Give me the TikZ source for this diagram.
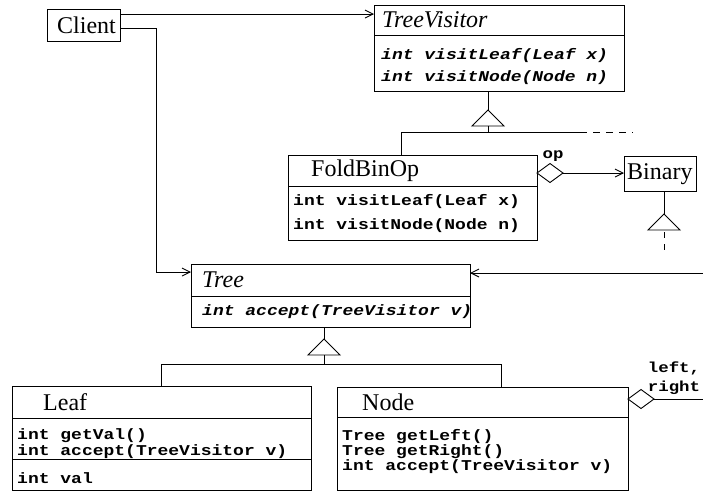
\documentclass[tikz,border=0pt]{standalone}
\usepackage{fontspec}
\setmainfont{Liberation Serif}
\newfontfamily\codefont[FakeStretch=1.2]{Liberation Mono}
\usetikzlibrary{arrows.meta,calc}

\newcommand{\ttlfont}{\fontsize{24}{24}\selectfont}
\newcommand{\memfont}{\codefont\fontsize{15}{15}\selectfont\bfseries}
\newcommand{\lblfont}{\codefont\fontsize{14.5}{14.5}\selectfont\bfseries}

\tikzset{
  ln/.style={line width=0.9pt, draw=black},
  cls/.style={ln, anchor=north west, inner sep=0pt, outer sep=0pt},
  ttl/.style={anchor=west, inner sep=0pt, font=\ttlfont},
  mem/.style={anchor=west, inner sep=0pt, font=\memfont},
  lbl/.style={anchor=center, inner sep=0pt, font=\lblfont},
  assoc/.style={ln, -{Straight Barb[length=8pt,width=8pt,line width=0.9pt]}},
  dsh/.style={ln, dash pattern=on 7pt off 6pt},
  gen/.pic={\draw[ln, fill=white] (0,0) -- (16,16) -- (-16,16) -- cycle;},
  agg/.pic={\draw[ln, fill=white] (0,0) -- (13,-9.5) -- (26,0) -- (13,9.5) -- cycle;}
}

\begin{document}
\begin{tikzpicture}[x=1pt, y=-1pt]
\useasboundingbox (0,0) rectangle (703,491);

% ---- classes ----
\node[cls, minimum width=73pt, minimum height=32pt] (client) at (47,9) {};
\node[ttl] at (57,25) {Client};

\node[cls, minimum width=250pt, minimum height=86pt] (tv) at (374,5) {};
\draw[ln] (374,35) -- (624,35);
\node[ttl] at (382,20) {\itshape TreeVisitor};
\node[mem] at (381,56) {\itshape int visitLeaf(Leaf x)};
\node[mem] at (381,78) {\itshape int visitNode(Node n)};

\node[cls, minimum width=249pt, minimum height=85pt] (fold) at (288,155) {};
\draw[ln] (288,186) -- (537,186);
\node[ttl] at (311,171) {FoldBinOp};
\node[mem] at (293,202) {int visitLeaf(Leaf x)};
\node[mem] at (293,226) {int visitNode(Node n)};

\node[cls, minimum width=72pt, minimum height=35pt] (binary) at (624,156) {};
\node[ttl] at (627,174) {Binary};

\node[cls, minimum width=279pt, minimum height=63pt] (tree) at (191,264) {};
\draw[ln] (191,296) -- (470,296);
\node[ttl] at (202,280) {\itshape Tree};
\node[mem] at (202,312) {\itshape int accept(TreeVisitor v)};

\node[cls, minimum width=299pt, minimum height=104pt] (leaf) at (12,386) {};
\draw[ln] (12,418) -- (311,418);
\draw[ln] (12,459) -- (311,459);
\node[ttl] at (43,402) {Leaf};
\node[mem] at (17,436) {int getVal()};
\node[mem] at (17,452) {int accept(TreeVisitor v)};
\node[mem] at (17,478) {int val};

\node[cls, minimum width=291pt, minimum height=103pt] (node) at (337,387) {};
\draw[ln] (337,417) -- (628,417);
\node[ttl] at (362,402) {Node};
\node[mem] at (342,437) {Tree getLeft()};
\node[mem] at (342,452) {Tree getRight()};
\node[mem] at (342,467) {int accept(TreeVisitor v)};

% ---- Client associations ----
\coordinate (c1) at ($(client.north east)+(0,5)$);
\draw[assoc] (c1) -- (c1 -| tv.west);
\coordinate (c2) at ($(client.north east)+(0,19)$);
\coordinate (t2) at ($(tree.north west)+(0,8)$);
\draw[assoc] (c2) -| ($(t2)+(-35,0)$) -- (t2);

% ---- TreeVisitor hierarchy ----
\coordinate (tvg) at (488,110);
\draw[ln] (tvg |- tv.south) -- (tvg);
\pic at (tvg) {gen};
\coordinate (tvbar) at (488,132);
\draw[ln] ($(tvg)+(0,16)$) -- (tvbar);
\draw[ln] (fold.north -| 401,0) |- (580,132);
\draw[dsh] (580,132) -- (633,132);

% ---- FoldBinOp aggregates Binary ----
\coordinate (fa) at ($(fold.north east)+(0,18)$);
\pic at (fa) {agg};
\draw[assoc] ($(fa)+(26,0)$) -- (fa -| binary.west);

\coordinate (bg) at (664,214);
\draw[ln] (bg |- binary.south) -- (bg);
\pic at (bg) {gen};
\draw[ln, dash pattern=on 6pt off 6pt] ($(bg)+(0,18)$) -- ($(bg)+(0,38)$);

% ---- incoming reference to Tree ----
\coordinate (tr) at ($(tree.north east)+(0,9)$);
\coordinate (trin) at (703,273);
\draw[assoc] (trin) -- (tr);

% ---- Tree hierarchy ----
\coordinate (tg) at (324,339);
\draw[ln] (tg |- tree.south) -- (tg);
\pic at (tg) {gen};
\draw[ln] ($(tg)+(0,16)$) -- (324,364);
\draw[ln] (leaf.north -| 161,0) |- (324,364) -| (node.north -| 501,0);

% ---- Node aggregates Tree ----
\coordinate (na) at ($(node.north east)+(0,12)$);
\pic at (na) {agg};
\coordinate (nout) at (703,399);
\draw[ln] ($(na)+(26,0)$) -- (nout);

% ---- role labels ----
\node[lbl] (lop) at (553,156) {op};
\node[lbl] (lleft) at (674,368) {left,};
\node[lbl] (lright) at (674,388) {right};
\end{tikzpicture}
\end{document}
